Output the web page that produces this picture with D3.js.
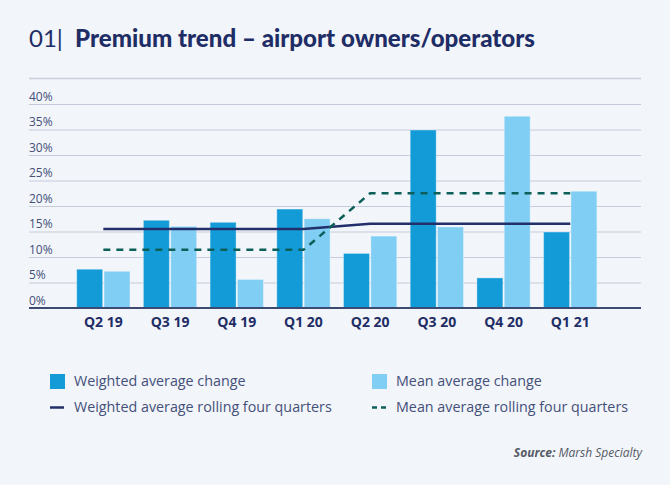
<!DOCTYPE html>
<html>
<head>
<meta charset="utf-8">
<script src="https://cdn.jsdelivr.net/npm/d3@7"></script>
<style>
  html, body { margin: 0; padding: 0; background: #f2f5f9; }
  svg { display: block; }
</style>
</head>
<body>
<script>
const categories = ["Q2 19", "Q3 19", "Q4 19", "Q1 20", "Q2 20", "Q3 20", "Q4 20", "Q1 21"];
const weightedChange = [7.6, 17.2, 16.8, 19.4, 10.7, 34.9, 5.9, 14.9];
const meanChange = [7.2, 16.0, 5.6, 17.5, 14.1, 15.9, 37.6, 22.9];
const weightedRolling = [15.5, 15.5, 15.5, 15.5, 16.5, 16.5, 16.5, 16.5];
const meanRolling = [11.4, 11.4, 11.4, 11.4, 22.5, 22.5, 22.5, 22.5];
const yTicks = [0, 5, 10, 15, 20, 25, 30, 35, 40];
const seriesNames = ["Weighted average change", "Mean average change", "Weighted average rolling four quarters", "Mean average rolling four quarters"];

const W = 670, H = 485;
const C = { dark: "#139bd8", light: "#80cef4", navy: "#232f6b", teal: "#0d5f5a", grid: "#c6cbdc", text: "#45507a", title: "#1f2d66" };

const svg = d3.select("body").append("svg").attr("width", W).attr("height", H);
svg.append("rect").attr("width", W).attr("height", H).attr("fill", "#f2f5f9");

// Title
const title = svg.append("text").attr("x", 29).attr("y", 47).attr("fill", C.title)
  .style("font-family", "Lato, 'Open Sans', sans-serif").style("font-size", "24px");
title.append("tspan").attr("font-weight", 400).text("01|");
title.append("tspan").attr("x", 75).attr("font-weight", 900)
  .attr("textLength", 460).attr("lengthAdjust", "spacingAndGlyphs")
  .text("Premium trend \u2013 airport owners/operators");

// top rule
svg.append("line").attr("x1", 29).attr("x2", 641).attr("y1", 78.5).attr("y2", 78.5)
  .attr("stroke", "#c9cfdc").attr("stroke-width", 1.5);

const x = d3.scaleBand().domain(categories).range([70, 70 + 8 * 66.7]).padding(0);
const x1 = d3.scaleBand().domain(["w", "m"]).range([6.7, x.bandwidth() - 6.7]).paddingInner(0.05);
const y = d3.scaleLinear().domain([0, 40]).range([308, 104]);

// gridlines + tick labels
const g = svg.append("g");
g.selectAll("line.grid").data(yTicks.filter(d => d > 0)).join("line")
  .attr("x1", 29).attr("x2", 641)
  .attr("y1", d => y(d) + 0.5).attr("y2", d => y(d) + 0.5)
  .attr("stroke", C.grid).attr("stroke-width", 1.2);
g.selectAll("text.tick").data(yTicks).join("text")
  .attr("x", 29).attr("y", d => y(d) - 3.5)
  .attr("fill", C.text)
  .style("font-family", "'Open Sans', sans-serif").style("font-size", "12px")
  .text(d => d + "%");

// bars
const bars = svg.append("g");
categories.forEach((c, i) => {
  [["w", weightedChange[i], C.dark], ["m", meanChange[i], C.light]].forEach(([k, v, col]) => {
    bars.append("rect")
      .attr("x", x(c) + x1(k)).attr("width", x1.bandwidth())
      .attr("y", y(v)).attr("height", y(0) - y(v))
      .attr("fill", col)
      .attr("stroke", "rgba(255,255,255,0.35)").attr("stroke-width", 1);
  });
});

// baseline axis
svg.append("line").attr("x1", 29).attr("x2", 641).attr("y1", y(0)).attr("y2", y(0))
  .attr("stroke", "#3d4a72").attr("stroke-width", 2);

// x labels
svg.append("g").selectAll("text").data(categories).join("text")
  .attr("x", d => x(d) + x.bandwidth() / 2).attr("y", 327)
  .attr("text-anchor", "middle").attr("fill", C.title)
  .style("font-family", "'Open Sans', sans-serif").style("font-size", "14px").style("font-weight", 700)
  .text(d => d);

// lines
const line = d3.line().x((d, i) => x(categories[i]) + x.bandwidth() / 2).y(d => y(d));
svg.append("path").datum(weightedRolling).attr("d", line)
  .attr("fill", "none").attr("stroke", C.navy).attr("stroke-width", 2.5);
svg.append("path").datum(meanRolling).attr("d", line)
  .attr("fill", "none").attr("stroke", C.teal).attr("stroke-width", 2.5)
  .attr("stroke-dasharray", "7,6");

// legend
const leg = svg.append("g").style("font-family", "'Open Sans', sans-serif").style("font-size", "14.3px");
const legItems = [
  { name: seriesNames[0], type: "rect", color: C.dark, lx: 50, ly: 381 },
  { name: seriesNames[1], type: "rect", color: C.light, lx: 372, ly: 381 },
  { name: seriesNames[2], type: "line", color: C.navy, lx: 50, ly: 407 },
  { name: seriesNames[3], type: "dash", color: C.teal, lx: 372, ly: 407 }
];
legItems.forEach(it => {
  if (it.type === "rect") {
    leg.append("rect").attr("x", it.lx).attr("y", it.ly - 7).attr("width", 15).attr("height", 15).attr("fill", it.color);
  } else {
    leg.append("line").attr("x1", it.lx).attr("x2", it.lx + 14).attr("y1", it.ly + 0.5).attr("y2", it.ly + 0.5)
      .attr("stroke", it.color).attr("stroke-width", 2.5)
      .attr("stroke-dasharray", it.type === "dash" ? "5,4" : null);
  }
  leg.append("text").attr("x", it.lx + 24).attr("y", it.ly + 5).attr("fill", C.text).text(it.name);
});

// source
const src = svg.append("text").attr("x", 642).attr("y", 457).attr("text-anchor", "end")
  .attr("fill", "#555a66").style("font-family", "'Open Sans', sans-serif").style("font-size", "12px").style("font-style", "italic");
src.append("tspan").attr("font-weight", 700).text("Source:");
src.append("tspan").text(" Marsh Specialty");
</script>
</body>
</html>
